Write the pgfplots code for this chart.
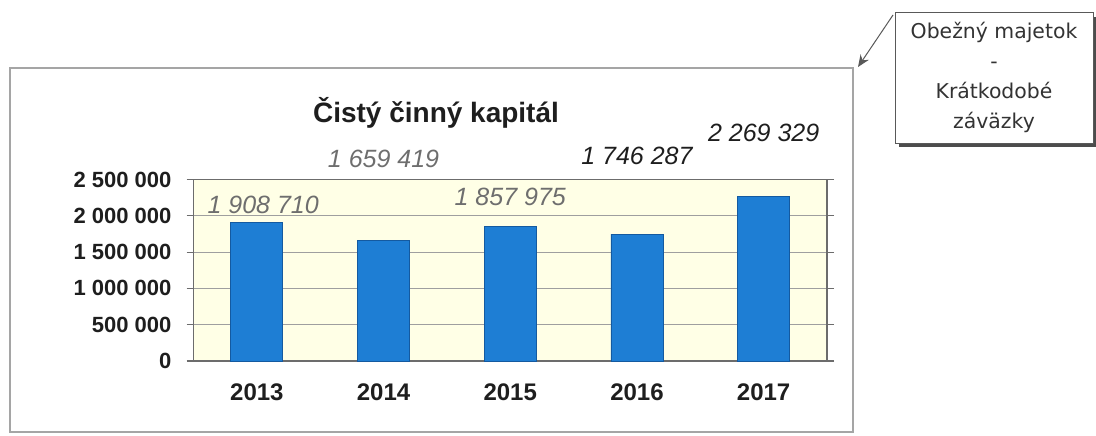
\documentclass[border=0pt]{standalone}
\usepackage{fontspec}
\setmainfont{Liberation Sans}
\newfontfamily\calloutfont{DejaVu Sans}
\usepackage{pgfplots}
\pgfplotsset{compat=1.18}
\usetikzlibrary{arrows.meta}

\definecolor{barblue}{RGB}{30,126,212}
\definecolor{baredge}{RGB}{20,90,160}
\definecolor{plotbg}{RGB}{255,255,230}
\definecolor{lblgray}{RGB}{110,110,110}
\definecolor{lbldark}{RGB}{30,30,30}
\definecolor{framegray}{RGB}{165,165,165}

\begin{document}
\begin{tikzpicture}[x=0.5pt,y=0.5pt]
\path[use as bounding box] (0,0) rectangle (1096,435);
% outer chart frame
\draw[framegray, line width=0.8pt] (10,3) rectangle (853,367);
% title
\node[font=\fontsize{14}{16}\selectfont\bfseries, text=lbldark] at (436,322) {Čistý činný kapitál};

\begin{axis}[
  at={(96.75pt,37pt)}, anchor=south west,
  scale only axis, width=316.75pt, height=90.75pt,
  ybar, bar width=26pt, bar shift=0pt,
  xmin=-0.5, xmax=4.5, ymin=0, ymax=2500000,
  xtick={0,1,2,3,4},
  xticklabels={2013,2014,2015,2016,2017},
  ytick={0,500000,1000000,1500000,2000000,2500000},
  yticklabels={0,500 000,1 000 000,1 500 000,2 000 000,2 500 000},
  scaled y ticks=false,
  ymajorgrids, grid style={gray!75, line width=0.6pt},
  axis line style={gray!85!black, line width=0.7pt},
  axis background/.style={fill=plotbg},
  tick align=outside, major tick length=3.5pt,
  xtick style={draw=none},
  ytick style={gray!85!black, line width=0.6pt},
  y tick label style={font=\fontsize{11}{13}\selectfont\bfseries, text=lbldark, xshift=-4pt},
  x tick label style={font=\fontsize{12}{14}\selectfont\bfseries, text=lbldark, yshift=-4.5pt},
  clip=false,
]
\addplot[fill=barblue, draw=baredge, line width=0.4pt] coordinates {
  (0,1908710) (1,1659419) (2,1857975) (3,1746287) (4,2269329)
};
\node[font=\fontsize{12.5}{15}\selectfont\itshape, text=lblgray] at (axis cs:0.05,2155000) {1 908 710};
\node[font=\fontsize{12.5}{15}\selectfont\itshape, text=lblgray] at (axis cs:1.0,2790000) {1 659 419};
\node[font=\fontsize{12.5}{15}\selectfont\itshape, text=lblgray] at (axis cs:2.0,2255000) {1 857 975};
\node[font=\fontsize{12.5}{15}\selectfont\itshape, text=lbldark] at (axis cs:3.0,2825000) {1 746 287};
\node[font=\fontsize{12.5}{15}\selectfont\itshape, text=lbldark] at (axis cs:4.0,3140000) {2 269 329};
\end{axis}

% callout
\fill[gray!60!black] (899,288) rectangle (1097,418);
\draw[gray!70!black, line width=0.5pt, fill=white] (895,292) rectangle (1093,422);
\draw[gray!70!black, line width=0.5pt, -{Stealth[length=6pt,width=5pt]}] (893,420) -- (858,368);
\node[font=\calloutfont\fontsize{10.2}{15}\selectfont, text=black!80, align=center] at (994,358)
  {Obežný majetok\\-\\Krátkodobé\\záväzky};
\end{tikzpicture}
\end{document}
